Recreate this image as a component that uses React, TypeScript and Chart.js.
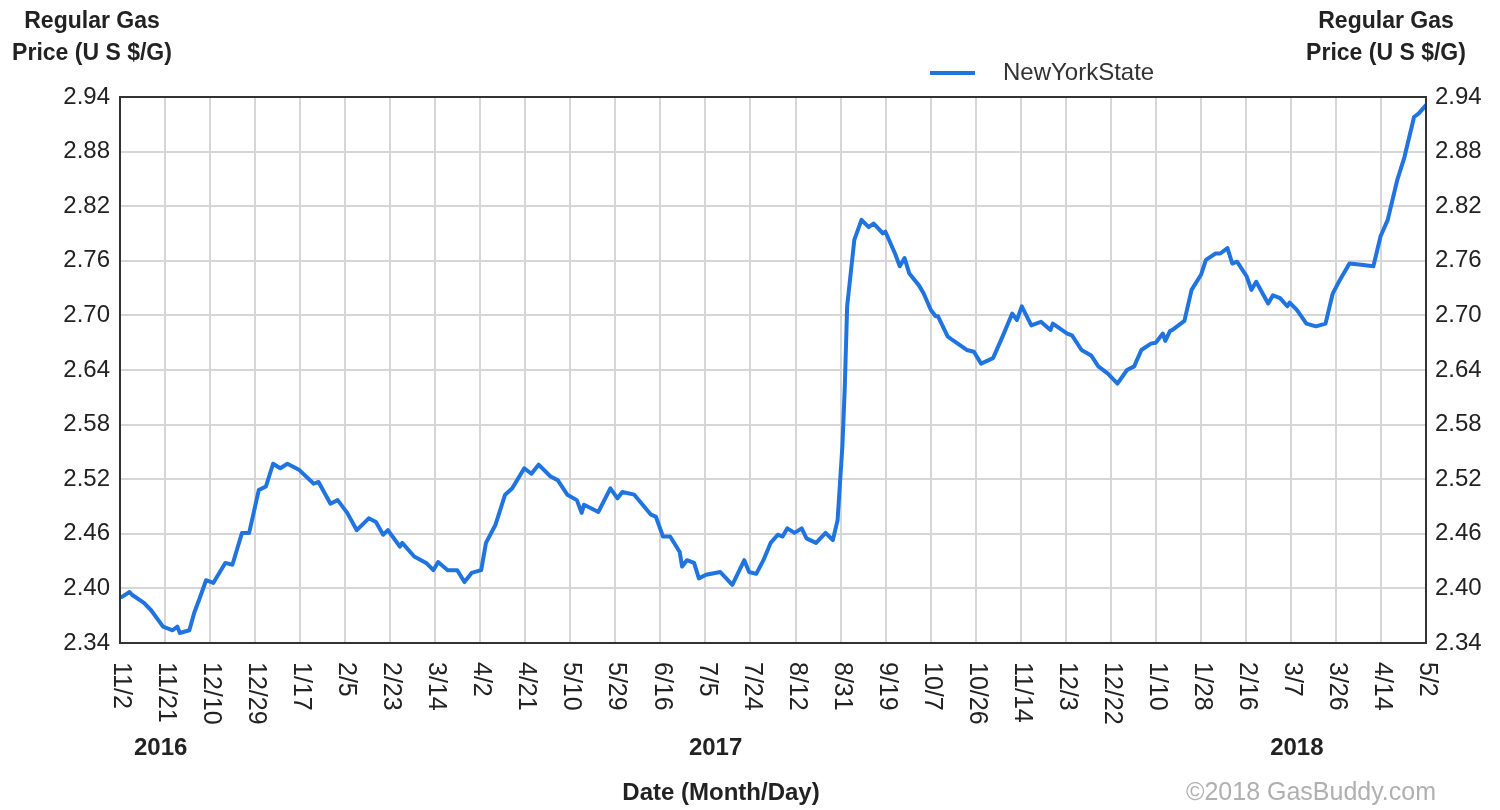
import React, { useEffect, useRef } from "react";
import { Chart, registerables } from "chart.js";

Chart.register(...registerables);

const dateLabels = [
  "11/2", "11/21", "12/10", "12/29", "1/17", "2/5", "2/23", "3/14", "4/2", "4/21",
  "5/10", "5/29", "6/16", "7/5", "7/24", "8/12", "8/31", "9/19", "10/7", "10/26",
  "11/14", "12/3", "12/22", "1/10", "1/28", "2/16", "3/7", "3/26", "4/14", "5/2",
];
const totalDays = 546;
const yearLabels = ["2016", "2017", "2018"];
const yearDays = [17, 249, 492];
const yTickValues = [2.34, 2.4, 2.46, 2.52, 2.58, 2.64, 2.7, 2.76, 2.82, 2.88, 2.94];
const seriesName = "NewYorkState";

// days since 11/2/2016
const dayOffsets = [
  0, 1, 4, 5, 10, 13, 18, 22, 24, 25, 29, 31, 33, 36, 39, 44, 47, 51, 54, 58,
  61, 64, 67, 70, 75, 81, 83, 88, 91, 95, 99, 104, 107, 110, 112, 117, 118, 123, 128, 131,
  133, 137, 141, 144, 147, 151, 153, 157, 161, 164, 169, 172, 175, 180, 183, 187, 191, 193, 194, 200,
  205, 208, 210, 215, 222, 224, 227, 230, 234, 235, 237, 240, 242, 245, 251, 256, 261, 263, 266, 269,
  272, 275, 277, 279, 282, 285, 287, 291, 295, 298, 300, 302, 303, 304, 307, 310, 313, 315, 319, 320,
  324, 326, 328, 330, 334, 336, 339, 341, 342, 346, 348, 354, 357, 360, 365, 369, 373, 375, 377, 381,
  385, 389, 390, 396, 398, 402, 406, 409, 413, 417, 421, 424, 427, 431, 433, 436, 437, 439, 440, 445,
  448, 452, 454, 458, 460, 463, 465, 467, 471, 473, 475, 480, 482, 485, 488, 489, 492, 496, 500, 504,
  507, 510, 514, 518, 524, 527, 530, 534, 537, 541, 543, 546,
];
const prices = [
  2.39, 2.391, 2.396, 2.393, 2.384, 2.376, 2.358, 2.354, 2.358, 2.351, 2.354, 2.373, 2.387, 2.409, 2.406, 2.428, 2.426, 2.461, 2.461, 2.508,
  2.512, 2.537, 2.532, 2.537, 2.53, 2.515, 2.517, 2.493, 2.497, 2.483, 2.464, 2.477, 2.473, 2.459, 2.464, 2.446, 2.45, 2.435, 2.428, 2.42,
  2.429, 2.42, 2.42, 2.407, 2.417, 2.42, 2.45, 2.47, 2.503, 2.51, 2.532, 2.526, 2.536, 2.523, 2.519, 2.503, 2.497, 2.483, 2.492, 2.484,
  2.51, 2.499, 2.506, 2.503, 2.481, 2.479, 2.457, 2.457, 2.44, 2.424, 2.431, 2.428, 2.411, 2.415, 2.418, 2.404, 2.431, 2.418, 2.416, 2.431,
  2.45, 2.459, 2.457, 2.466, 2.461, 2.466, 2.455, 2.45, 2.461, 2.453, 2.475, 2.556, 2.62, 2.71, 2.783, 2.805, 2.797, 2.801, 2.79, 2.792,
  2.768, 2.754, 2.763, 2.746, 2.733, 2.724, 2.706, 2.699, 2.699, 2.677, 2.673, 2.662, 2.66, 2.647, 2.653, 2.677, 2.702, 2.695, 2.71, 2.689,
  2.693, 2.684, 2.691, 2.68, 2.678, 2.662, 2.656, 2.644, 2.636, 2.625, 2.64, 2.644, 2.662, 2.669, 2.67, 2.68, 2.672, 2.683, 2.684, 2.694,
  2.728, 2.745, 2.761, 2.768, 2.768, 2.774, 2.757, 2.759, 2.743, 2.728, 2.737, 2.713, 2.722, 2.719, 2.71, 2.714, 2.706, 2.691, 2.688, 2.691,
  2.724, 2.739, 2.757, 2.756, 2.754, 2.787, 2.805, 2.849, 2.874, 2.918, 2.922, 2.931,
];

const FONT = "'Liberation Sans', Arial, Helvetica, sans-serif";
const LINE_COLOR = "#1f74e0";
const TEXT_COLOR = "#222222";

const decorPlugin = {
  id: "decor",
  afterDraw(chart: any) {
    const ctx = chart.ctx;
    const area = chart.chartArea;
    const xs = chart.scales.x;
    ctx.save();
    // frame
    ctx.strokeStyle = "#333333";
    ctx.lineWidth = 2;
    ctx.strokeRect(area.left, area.top, area.right - area.left, area.bottom - area.top);

    // rotated x tick labels
    ctx.fillStyle = TEXT_COLOR;
    ctx.font = `25px ${FONT}`;
    ctx.textAlign = "left";
    ctx.textBaseline = "middle";
    dateLabels.forEach((lab, i) => {
      const x = xs.getPixelForValue((i * totalDays) / (dateLabels.length - 1));
      ctx.save();
      ctx.translate(x + 1, area.bottom + 19);
      ctx.rotate(Math.PI / 2);
      ctx.fillText(lab, 0, 0);
      ctx.restore();
    });

    // year labels
    ctx.font = `bold 24px ${FONT}`;
    ctx.textAlign = "center";
    yearLabels.forEach((y, i) => {
      ctx.fillText(y, xs.getPixelForValue(yearDays[i]), 748);
    });

    // axis title x
    ctx.fillText("Date (Month/Day)", 721, 793);

    // y titles
    ctx.font = `bold 23px ${FONT}`;
    ctx.fillText("Regular Gas", 92, 22);
    ctx.fillText("Price (U S $/G)", 92, 54);
    ctx.fillText("Regular Gas", 1386, 22);
    ctx.fillText("Price (U S $/G)", 1386, 54);

    // legend
    ctx.strokeStyle = LINE_COLOR;
    ctx.lineWidth = 4;
    ctx.beginPath();
    ctx.moveTo(930, 73);
    ctx.lineTo(975, 73);
    ctx.stroke();
    ctx.font = `24px ${FONT}`;
    ctx.textAlign = "left";
    ctx.fillStyle = "#333333";
    ctx.fillText(seriesName, 1003, 73);

    // copyright
    ctx.fillStyle = "#b0b0b0";
    ctx.font = `25px ${FONT}`;
    ctx.fillText("\u00a92018 GasBuddy.com", 1186, 793);
    ctx.restore();
  },
};

export default function App() {
  const canvasRef = useRef<HTMLCanvasElement | null>(null);

  useEffect(() => {
    if (!canvasRef.current) return;
    const points = dayOffsets.map((d, i) => ({ x: d, y: prices[i] }));
    const setYTicks = (scale: any) => {
      scale.ticks = yTickValues.map((v) => ({ value: v }));
    };
    const chart = new Chart(canvasRef.current, {
      type: "line",
      data: {
        datasets: [
          {
            label: seriesName,
            data: points,
            borderColor: LINE_COLOR,
            borderWidth: 4,
            pointRadius: 0,
            tension: 0,
            borderJoinStyle: "round",
            borderCapStyle: "round",
            yAxisID: "y",
          },
        ],
      },
      options: {
        animation: false,
        responsive: false,
        layout: { padding: { top: 97, left: 0, right: 0, bottom: 0 } },
        plugins: { legend: { display: false }, tooltip: { enabled: false } },
        scales: {
          x: {
            type: "linear",
            min: 0,
            max: totalDays,
            afterBuildTicks: (scale: any) => {
              scale.ticks = dateLabels.map((_, i) => ({ value: (i * totalDays) / (dateLabels.length - 1) }));
            },
            afterFit: (scale: any) => {
              scale.height = 167;
            },
            ticks: { display: false },
            grid: { color: "#d6d6d6", lineWidth: 2, drawTicks: false },
            border: { display: false },
          },
          y: {
            type: "linear",
            position: "left",
            min: 2.34,
            max: 2.94,
            afterBuildTicks: setYTicks,
            afterFit: (scale: any) => {
              scale.width = 120;
            },
            ticks: {
              color: TEXT_COLOR,
              font: { family: FONT, size: 24 },
              padding: 10,
              callback: (v: any) => Number(v).toFixed(2),
            },
            grid: { color: "#d6d6d6", lineWidth: 2, drawTicks: false },
            border: { display: false },
          },
          y2: {
            type: "linear",
            position: "right",
            min: 2.34,
            max: 2.94,
            afterBuildTicks: setYTicks,
            afterFit: (scale: any) => {
              scale.width = 74;
            },
            ticks: {
              color: TEXT_COLOR,
              font: { family: FONT, size: 24 },
              padding: 9,
              callback: (v: any) => Number(v).toFixed(2),
            },
            grid: { display: false, drawTicks: false },
            border: { display: false },
          },
        },
      },
      plugins: [decorPlugin],
    } as any);
    return () => chart.destroy();
  }, []);

  return (
    <div style={{ position: "absolute", left: 0, top: 0, width: 1500, height: 810, background: "#fff" }}>
      <canvas ref={canvasRef} width={1500} height={810} />
    </div>
  );
}
